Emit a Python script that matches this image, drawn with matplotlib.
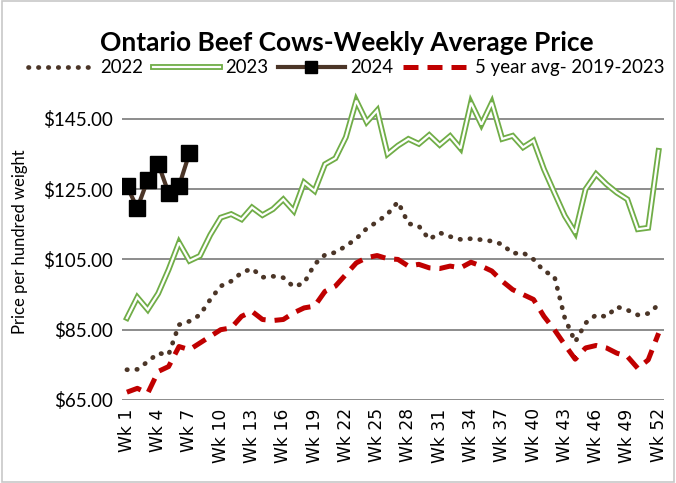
import matplotlib.pyplot as plt
from matplotlib.lines import Line2D

weeks = list(range(1, 53))

price_2022 = [73.6, 73.7, 75.9, 78.3, 77.9, 86.4, 87.4, 89.2, 93.6, 97.4,
              98.8, 101.2, 102.4, 99.9, 100.2, 99.8, 97.2, 98.3, 103.6, 106.3,
              107.0, 108.8, 110.9, 113.8, 115.7, 117.9, 121.4, 115.2, 114.5, 110.7,
              112.6, 111.5, 110.7, 110.9, 110.6, 110.2, 109.3, 106.7, 106.9, 105.0,
              101.7, 100.2, 88.3, 81.5, 86.9, 89.2, 88.7, 91.5, 90.6, 89.2,
              89.6, 92.1]

price_2023 = [88.3, 94.2, 90.7, 95.3, 102.1, 109.8, 104.6, 106.0, 112.0, 116.9,
              117.9, 116.4, 119.8, 117.6, 119.3, 122.1, 118.8, 126.9, 124.5, 132.1,
              133.8, 139.8, 150.2, 144.1, 147.4, 135.0, 137.4, 139.3, 137.9, 140.4,
              137.6, 140.1, 136.6, 149.6, 143.4, 149.6, 139.3, 140.2, 136.9, 138.8,
              130.7, 124.0, 117.4, 112.6, 125.0, 129.3, 126.4, 124.0, 122.1, 113.6,
              114.0, 135.9]

weeks_2024 = [1, 2, 3, 4, 5, 6, 7]
price_2024 = [125.9, 119.6, 127.7, 132.3, 123.9, 125.9, 135.3]

avg_5yr = [67.2, 68.3, 66.9, 73.1, 74.5, 80.2, 79.3, 81.2, 83.1, 85.0,
           85.5, 88.8, 90.2, 87.9, 87.6, 87.9, 89.8, 91.2, 91.7, 95.9,
           97.4, 100.7, 104.0, 105.5, 106.1, 105.2, 105.0, 103.1, 103.6, 102.6,
           102.4, 103.1, 102.6, 104.2, 103.1, 101.7, 98.8, 96.4, 95.0, 93.6,
           88.8, 85.0, 80.7, 76.6, 79.8, 80.5, 79.8, 78.3, 77.4, 74.0,
           76.4, 84.0]

tick_weeks = list(range(1, 53, 3))
tick_labels = [f"Wk {w}" for w in tick_weeks]
y_ticks = [65, 85, 105, 125, 145]

brown = "#4b3527"
green = "#70ad47"
red = "#c00000"

fig = plt.figure(figsize=(6.76, 4.83), dpi=100)
fig.patches.append(plt.Rectangle((0.003, 0.003), 0.994, 0.994, transform=fig.transFigure,
                                 fill=False, edgecolor="#c8c8c8", linewidth=1.2))
ax = fig.add_axes([0.180, 0.172, 0.802, 0.640])

ax.plot(weeks, price_2022, color=brown, lw=3.4, linestyle=(0, (0.1, 2.0)),
        dash_capstyle="round", zorder=3)
ax.plot(weeks, price_2023, color=green, lw=4.2, solid_joinstyle="miter", zorder=3)
ax.plot(weeks, price_2023, color="white", lw=1.6, solid_joinstyle="miter", zorder=3)
ax.plot(weeks_2024, price_2024, color=brown, lw=3, marker="s", markersize=11,
        markerfacecolor="black", markeredgecolor="black", zorder=4)
ax.plot(weeks, avg_5yr, color=red, lw=3.6, linestyle=(0, (3.0, 1.8)), zorder=3)

ax.set_xlim(0.5, 52.5)
ax.set_ylim(65, 153)
ax.set_yticks(y_ticks)
ax.set_yticklabels([f"${v:.2f}" for v in y_ticks], fontsize=13.5, family="Lato")
ax.set_xticks(tick_weeks)
ax.set_xticklabels(tick_labels, rotation=90, fontsize=12.3)
ax.tick_params(length=0, pad=6)
ax.grid(axis="y", color="#8c8c8c", lw=1.4)
ax.set_axisbelow(True)
for s in ax.spines.values():
    s.set_visible(False)
ax.set_ylabel("Price per hundred weight", fontsize=12, family="Lato")
ax.yaxis.set_label_coords(-0.172, 0.511)

fig.text(0.513, 0.912, "Ontario Beef Cows-Weekly Average Price", ha="center", va="center",
         fontsize=19, fontweight="bold", family="Lato")

h2022 = Line2D([], [], color=brown, lw=3.4, linestyle=(0, (0.1, 2.0)), dash_capstyle="round")
h2023a = Line2D([], [], color=green, lw=4.2)
h2023b = Line2D([], [], color="white", lw=1.6)
h2024 = Line2D([], [], color=brown, lw=3, marker="s", markersize=9,
               markerfacecolor="black", markeredgecolor="black")
havg = Line2D([], [], color=red, lw=3.6, linestyle=(0, (3.0, 1.8)))
fig.legend([h2022, (h2023a, h2023b), h2024, havg],
           ["2022", "2023", "2024", "5 year avg- 2019-2023"],
           loc="center", bbox_to_anchor=(0.512, 0.86), ncol=4, frameon=False,
           handlelength=3.6, handletextpad=0.3, columnspacing=0.5,
           prop={"family": "Lato", "size": 13.4})

fig.savefig("out.png", dpi=100)
